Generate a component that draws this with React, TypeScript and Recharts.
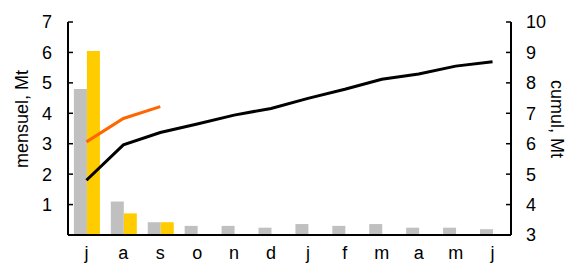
import { Bar, ComposedChart, Line, XAxis, YAxis } from "recharts";

const mois = ["j", "a", "s", "o", "n", "d", "j", "f", "m", "a", "m", "j"];
const mensuelGris = [4.8, 1.1, 0.42, 0.3, 0.3, 0.24, 0.36, 0.3, 0.36, 0.24, 0.24, 0.19];
const mensuelJaune = [6.05, 0.71, 0.42, null, null, null, null, null, null, null, null, null];
const cumulGris = [4.8, 5.96, 6.37, 6.65, 6.94, 7.16, 7.49, 7.79, 8.12, 8.29, 8.55, 8.69];
const cumulJaune = [6.06, 6.83, 7.22, null, null, null, null, null, null, null, null, null];

const ticksGauche = [1, 2, 3, 4, 5, 6, 7];
const ticksDroite = [3, 4, 5, 6, 7, 8, 9, 10];

const data = mois.map((m, i) => ({
  mois: m,
  gris: mensuelGris[i],
  jaune: mensuelJaune[i],
  cumulGris: cumulGris[i],
  cumulJaune: cumulJaune[i],
}));

const font = "'Liberation Sans', Arial, sans-serif";
const tickStyle = { fontSize: 18, fill: "#000", fontFamily: font };

export default function App() {
  return (
    <div style={{ position: "absolute", left: 0, top: 0, width: 570, height: 264 }}>
      <ComposedChart
        width={570}
        height={264}
        data={data}
        margin={{ top: 22, right: 0, left: 0, bottom: 0 }}
        barGap={0}
        barCategoryGap="16%"
      >
        <XAxis
          dataKey="mois"
          height={29}
          tickLine={false}
          tickSize={0}
          tickMargin={11}
          interval={0}
          tick={tickStyle}
          axisLine={{ stroke: "#000", strokeWidth: 2 }}
        />
        <YAxis
          yAxisId="left"
          width={68}
          domain={[0, 7]}
          ticks={ticksGauche}
          tick={tickStyle}
          tickSize={-5}
          tickMargin={21}
          axisLine={{ stroke: "#000", strokeWidth: 2 }}
          tickLine={{ stroke: "#000", strokeWidth: 1.5 }}
          label={{
            content: () => (
              <text
                x={22}
                y={119}
                transform="rotate(-90 22 119)"
                textAnchor="middle"
                dominantBaseline="central"
                style={{ fontSize: 18, fontFamily: font, fill: "#000" }}
              >
                mensuel, Mt
              </text>
            ),
          }}
        />
        <YAxis
          yAxisId="right"
          orientation="right"
          width={59}
          domain={[3, 10]}
          ticks={ticksDroite}
          tick={{ ...tickStyle, textAnchor: "start" }}
          tickSize={-5}
          tickMargin={20}
          axisLine={{ stroke: "#000", strokeWidth: 2 }}
          tickLine={{ stroke: "#000", strokeWidth: 1.5 }}
          label={{
            content: () => (
              <text
                x={557}
                y={119}
                transform="rotate(90 557 119)"
                textAnchor="middle"
                dominantBaseline="central"
                style={{ fontSize: 18, fontFamily: font, fill: "#000" }}
              >
                cumul, Mt
              </text>
            ),
          }}
        />
        <Bar yAxisId="left" dataKey="gris" fill="#C0C0C0" isAnimationActive={false} />
        <Bar yAxisId="left" dataKey="jaune" fill="#FFCC00" isAnimationActive={false} />
        <Line
          yAxisId="right"
          dataKey="cumulGris"
          stroke="#000"
          strokeWidth={3}
          dot={false}
          type="linear"
          isAnimationActive={false}
        />
        <Line
          yAxisId="right"
          dataKey="cumulJaune"
          stroke="#FF6600"
          strokeWidth={3}
          dot={false}
          type="linear"
          isAnimationActive={false}
        />
      </ComposedChart>
    </div>
  );
}
